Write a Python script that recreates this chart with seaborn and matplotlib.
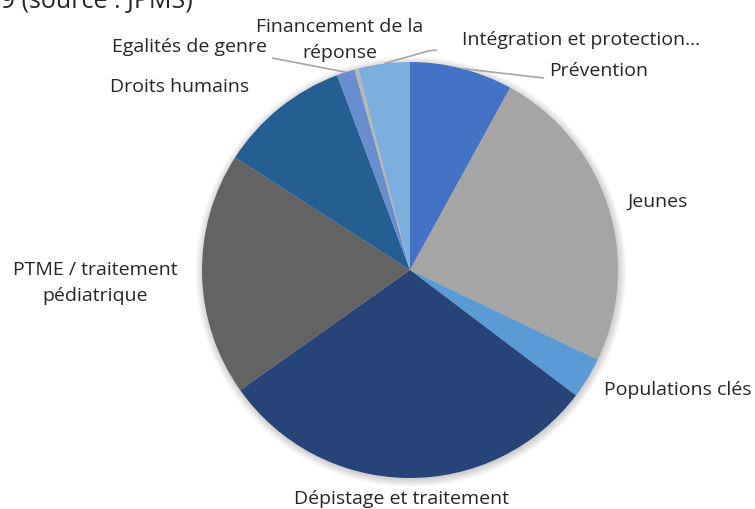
import numpy as np
import matplotlib
matplotlib.use("Agg")
import matplotlib.pyplot as plt
from matplotlib.patches import Circle
import seaborn as sns

categories = ["Prévention", "Jeunes", "Populations clés", "Dépistage et traitement",
              "PTME / traitement\npédiatrique", "Droits humains", "Egalités de genre",
              "Financement de la\nréponse", "Intégration et protection…"]
values = [8.0, 24.1, 3.2, 29.9, 18.9, 10.2, 1.4, 0.3, 4.0]
colors = ["#4472C4", "#A5A5A5", "#5B9BD5", "#264478", "#636363",
          "#255E91", "#698ED0", "#B7B7B7", "#7CAFDD"]
title = "Répartition des fonds par domaine, 2019 (source : JPMS)"

sns.set_theme(style="white")
plt.rcParams['font.family'] = ['Open Sans', 'DejaVu Sans']

W, H = 755, 509
CX, CY, R = 410, 270, 208
fig = plt.figure(figsize=(W / 100, H / 100), dpi=100)
ax = fig.add_axes([0, 0, 1, 1])

def d(px, py):
    return ((px - CX) / R, (CY - py) / R)

# soft shadow
for i, rr in enumerate(np.linspace(1.035, 1.0, 8)):
    ax.add_patch(Circle((0.004, -0.008), rr, color="#000000", alpha=0.025, lw=0, zorder=0))

wedges, _ = ax.pie(values, colors=sns.color_palette(colors), startangle=90,
                   counterclock=False, radius=1,
                   wedgeprops=dict(linewidth=0, zorder=1))

ax.set_xlim(-CX / R, (W - CX) / R)
ax.set_ylim(-(H - CY) / R, CY / R)
ax.axis("off")

txt_color = "#262626"
fs = 14
label_pos = {
    0: (599, 71, "center"),
    1: (658, 202, "center"),
    2: (678, 390, "center"),
    3: (401, 499, "center"),
    4: (95, 283, "center"),
    5: (180, 87, "center"),
    6: (190, 47, "center"),
    7: (340, 40, "center"),
    8: (581, 40, "center"),
}
for i, (px, py, ha) in label_pos.items():
    x, y = d(px, py)
    ax.text(x, y, categories[i], ha=ha, va="center", fontsize=fs, color=txt_color,
            linespacing=1.62)

# leader lines
def rim(i):
    w = wedges[i]
    th = np.deg2rad((w.theta1 + w.theta2) / 2)
    return np.cos(th), np.sin(th)

lc = "#A6A6A6"
leaders = {
    0: [(535, 77), (544, 78)],
    6: [(272, 58)],
    8: [(428, 51), (437, 50)],
}
for i, pts in leaders.items():
    xs, ys = [rim(i)[0]], [rim(i)[1]]
    for p in pts:
        xx, yy = d(*p)
        xs.append(xx); ys.append(yy)
    ax.plot(xs, ys, color=lc, lw=1.2, zorder=2, solid_capstyle="butt")

fig.text(193 / W, 1 - 8 / H, title, ha="right", va="baseline", fontsize=18,
         color=txt_color)

fig.savefig("out.png", dpi=100)
